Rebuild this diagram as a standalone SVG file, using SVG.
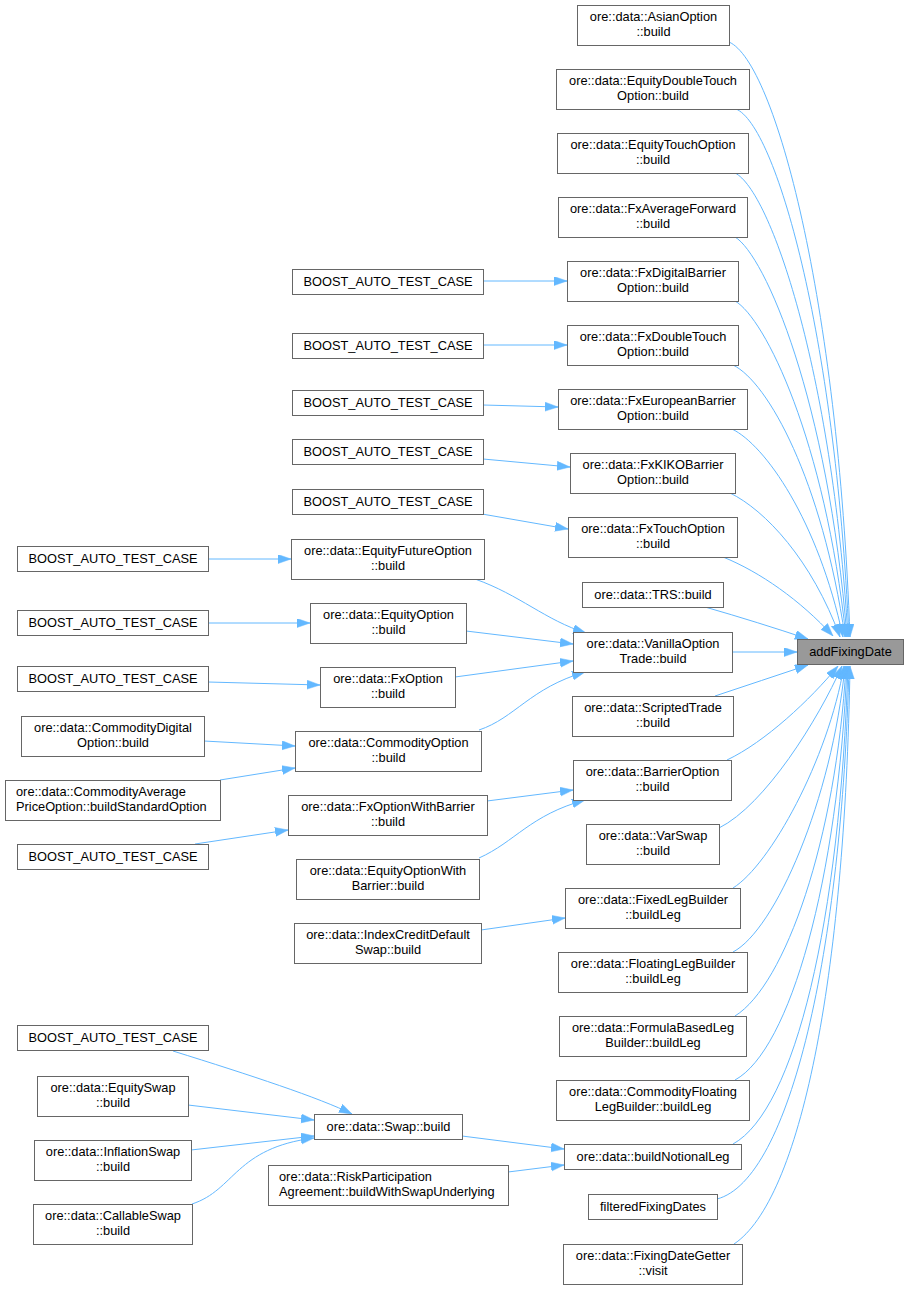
<svg xmlns="http://www.w3.org/2000/svg" width="908" height="1289" viewBox="0 0 908 1289">
<style>
.n rect{fill:#ffffff;stroke:#666666;stroke-width:1}
.m rect{fill:#999999;stroke:#666666;stroke-width:1}
text{font-family:"Liberation Sans",Arial,sans-serif;font-size:12.8px;fill:#000000;text-anchor:middle}
text.l{text-anchor:start}
.e path{fill:none;stroke:#63b8ff;stroke-width:1;marker-end:url(#ah)}
</style>
<defs>
<marker id="ah" markerWidth="13" markerHeight="10" refX="13" refY="4.5" orient="auto" markerUnits="userSpaceOnUse">
<path d="M0,0 L13,4.5 L0,9 z" fill="#63b8ff" stroke="#63b8ff" stroke-width="0.5"/>
</marker>
</defs>
<rect width="908" height="1289" fill="#ffffff"/>
<g id="connectors" class="e">
<path d="M729,42 C775,62 838,300 850,637"/>
<path d="M736,109 C775,125 835,330 849,637"/>
<path d="M735,173 C770,190 832,370 848,637"/>
<path d="M735,237 C765,255 828,400 847,637"/>
<path d="M735,301 C765,318 825,440 846,637"/>
<path d="M733,365 C768,382 822,480 845,637"/>
<path d="M732,429 C765,445 818,520 843,637"/>
<path d="M730,493 C765,510 812,560 840,637"/>
<path d="M723,557 C760,572 800,600 833,636"/>
<path d="M705,607 C740,617 775,628 808,639"/>
<path d="M732,652 L797,652"/>
<path d="M715,696 C745,686 778,675 808,665"/>
<path d="M727,760 C765,742 810,700 838,666"/>
<path d="M719,828 C765,805 818,720 842,666"/>
<path d="M733,888 C770,865 828,760 844,666"/>
<path d="M733,952 C775,930 832,800 845,666"/>
<path d="M735,1016 C785,985 836,840 846,666"/>
<path d="M735,1080 C790,1050 838,880 847,666"/>
<path d="M733,1144 C795,1110 840,920 848,666"/>
<path d="M717,1199 C790,1180 842,950 849,666"/>
<path d="M734,1244 C800,1200 845,980 850,666"/>
<path d="M483,281 L567,281"/>
<path d="M483,345 L567,345"/>
<path d="M483,405 L558,407"/>
<path d="M483,459 L570,467"/>
<path d="M482,514 L568,529"/>
<path d="M208,559 L291,559"/>
<path d="M208,623 L310,623"/>
<path d="M208,682 L320,685"/>
<path d="M204,741 L295,746"/>
<path d="M220,780 L295,768"/>
<path d="M195,844 L288,830"/>
<path d="M475,579 C520,595 545,620 586,633"/>
<path d="M466,631 L573,644"/>
<path d="M455,677 L573,661"/>
<path d="M479,730 C515,718 530,688 585,672"/>
<path d="M487,801 L573,790"/>
<path d="M479,858 C515,842 530,815 585,800"/>
<path d="M481,930 L565,918"/>
<path d="M462,1136 L564,1149"/>
<path d="M508,1172 L564,1165"/>
<path d="M173,1051 C250,1075 320,1098 352,1114"/>
<path d="M188,1105 L314,1120"/>
<path d="M191,1150 L314,1136"/>
<path d="M192,1204 C235,1190 235,1148 314,1138"/>
</g>
<g id="n_main" class="m"><rect x="797.5" y="639.5" width="106" height="25"/><text x="850.5" y="656">addFixingDate</text></g>
<g id="n_asian" class="n"><rect x="577.5" y="5.5" width="152" height="40"/><text x="653.5" y="21">ore::data::AsianOption</text><text x="653.5" y="36">::build</text></g>
<g id="n_eqdt" class="n"><rect x="556.5" y="69.5" width="193" height="40"/><text x="653" y="85">ore::data::EquityDoubleTouch</text><text x="653" y="100">Option::build</text></g>
<g id="n_eqt" class="n"><rect x="557.5" y="133.5" width="191" height="40"/><text x="653" y="149">ore::data::EquityTouchOption</text><text x="653" y="164">::build</text></g>
<g id="n_fxaf" class="n"><rect x="558.5" y="197.5" width="189" height="40"/><text x="653" y="213">ore::data::FxAverageForward</text><text x="653" y="228">::build</text></g>
<g id="n_fxdb" class="n"><rect x="567.5" y="261.5" width="171" height="40"/><text x="653" y="277">ore::data::FxDigitalBarrier</text><text x="653" y="292">Option::build</text></g>
<g id="n_fxdt" class="n"><rect x="567.5" y="325.5" width="171" height="40"/><text x="653" y="341">ore::data::FxDoubleTouch</text><text x="653" y="356">Option::build</text></g>
<g id="n_fxeb" class="n"><rect x="558.5" y="389.5" width="189" height="40"/><text x="653" y="405">ore::data::FxEuropeanBarrier</text><text x="653" y="420">Option::build</text></g>
<g id="n_fxkiko" class="n"><rect x="570.5" y="453.5" width="165" height="40"/><text x="653" y="469">ore::data::FxKIKOBarrier</text><text x="653" y="484">Option::build</text></g>
<g id="n_fxt" class="n"><rect x="568.5" y="517.5" width="169" height="40"/><text x="653" y="533">ore::data::FxTouchOption</text><text x="653" y="548">::build</text></g>
<g id="n_trs" class="n"><rect x="582.5" y="582.5" width="141" height="25"/><text x="653" y="599">ore::data::TRS::build</text></g>
<g id="n_vanilla" class="n"><rect x="573.5" y="632.5" width="159" height="40"/><text x="653" y="648">ore::data::VanillaOption</text><text x="653" y="663">Trade::build</text></g>
<g id="n_scripted" class="n"><rect x="572.5" y="696.5" width="161" height="40"/><text x="653" y="712">ore::data::ScriptedTrade</text><text x="653" y="727">::build</text></g>
<g id="n_barrier" class="n"><rect x="573.5" y="760.5" width="158" height="40"/><text x="652.5" y="776">ore::data::BarrierOption</text><text x="652.5" y="791">::build</text></g>
<g id="n_varswap" class="n"><rect x="586.5" y="824.5" width="133" height="40"/><text x="653" y="840">ore::data::VarSwap</text><text x="653" y="855">::build</text></g>
<g id="n_fixedleg" class="n"><rect x="565.5" y="888.5" width="175" height="40"/><text x="653" y="904">ore::data::FixedLegBuilder</text><text x="653" y="919">::buildLeg</text></g>
<g id="n_floatleg" class="n"><rect x="558.5" y="952.5" width="189" height="40"/><text x="653" y="968">ore::data::FloatingLegBuilder</text><text x="653" y="983">::buildLeg</text></g>
<g id="n_formula" class="n"><rect x="559.5" y="1016.5" width="187" height="40"/><text x="653" y="1032">ore::data::FormulaBasedLeg</text><text x="653" y="1047">Builder::buildLeg</text></g>
<g id="n_comfloat" class="n"><rect x="556.5" y="1080.5" width="193" height="40"/><text x="653" y="1096">ore::data::CommodityFloating</text><text x="653" y="1111">LegBuilder::buildLeg</text></g>
<g id="n_notional" class="n"><rect x="564.5" y="1144.5" width="177" height="25"/><text x="653" y="1161">ore::data::buildNotionalLeg</text></g>
<g id="n_filtered" class="n"><rect x="588.5" y="1194.5" width="129" height="25"/><text x="653" y="1211">filteredFixingDates</text></g>
<g id="n_fdg" class="n"><rect x="563.5" y="1244.5" width="179" height="40"/><text x="653" y="1260">ore::data::FixingDateGetter</text><text x="653" y="1275">::visit</text></g>
<g id="n_b1" class="n"><rect x="292.5" y="269.5" width="191" height="25"/><text x="388" y="286">BOOST_AUTO_TEST_CASE</text></g>
<g id="n_b2" class="n"><rect x="292.5" y="333.5" width="191" height="25"/><text x="388" y="350">BOOST_AUTO_TEST_CASE</text></g>
<g id="n_b3" class="n"><rect x="292.5" y="390.5" width="191" height="25"/><text x="388" y="407">BOOST_AUTO_TEST_CASE</text></g>
<g id="n_b4" class="n"><rect x="292.5" y="439.5" width="191" height="25"/><text x="388" y="456">BOOST_AUTO_TEST_CASE</text></g>
<g id="n_b5" class="n"><rect x="292.5" y="489.5" width="191" height="25"/><text x="388" y="506">BOOST_AUTO_TEST_CASE</text></g>
<g id="n_eqfut" class="n"><rect x="291.5" y="539.5" width="193" height="40"/><text x="388" y="555">ore::data::EquityFutureOption</text><text x="388" y="570">::build</text></g>
<g id="n_eqopt" class="n"><rect x="310.5" y="603.5" width="156" height="40"/><text x="388.5" y="619">ore::data::EquityOption</text><text x="388.5" y="634">::build</text></g>
<g id="n_fxopt" class="n"><rect x="320.5" y="667.5" width="135" height="40"/><text x="388" y="683">ore::data::FxOption</text><text x="388" y="698">::build</text></g>
<g id="n_comopt" class="n"><rect x="295.5" y="731.5" width="186" height="40"/><text x="388.5" y="747">ore::data::CommodityOption</text><text x="388.5" y="762">::build</text></g>
<g id="n_fxowb" class="n"><rect x="288.5" y="795.5" width="199" height="40"/><text x="388" y="811">ore::data::FxOptionWithBarrier</text><text x="388" y="826">::build</text></g>
<g id="n_eqowb" class="n"><rect x="296.5" y="859.5" width="183" height="40"/><text x="388" y="875">ore::data::EquityOptionWith</text><text x="388" y="890">Barrier::build</text></g>
<g id="n_icds" class="n"><rect x="294.5" y="923.5" width="187" height="40"/><text x="388" y="939">ore::data::IndexCreditDefault</text><text x="388" y="954">Swap::build</text></g>
<g id="n_swap" class="n"><rect x="314.5" y="1114.5" width="148" height="25"/><text x="388.5" y="1131">ore::data::Swap::build</text></g>
<g id="n_rpa" class="n"><rect x="268.5" y="1165.5" width="240" height="40"/><text class="l" x="279" y="1181">ore::data::RiskParticipation</text><text class="l" x="279" y="1196">Agreement::buildWithSwapUnderlying</text></g>
<g id="n_l1" class="n"><rect x="17.5" y="546.5" width="191" height="25"/><text x="113" y="563">BOOST_AUTO_TEST_CASE</text></g>
<g id="n_l2" class="n"><rect x="17.5" y="610.5" width="191" height="25"/><text x="113" y="627">BOOST_AUTO_TEST_CASE</text></g>
<g id="n_l3" class="n"><rect x="17.5" y="666.5" width="191" height="25"/><text x="113" y="683">BOOST_AUTO_TEST_CASE</text></g>
<g id="n_comdig" class="n"><rect x="21.5" y="716.5" width="183" height="40"/><text x="113" y="732">ore::data::CommodityDigital</text><text x="113" y="747">Option::build</text></g>
<g id="n_comavg" class="n"><rect x="5.5" y="780.5" width="215" height="40"/><text class="l" x="16" y="796">ore::data::CommodityAverage</text><text class="l" x="16" y="811">PriceOption::buildStandardOption</text></g>
<g id="n_l4" class="n"><rect x="17.5" y="844.5" width="191" height="25"/><text x="113" y="861">BOOST_AUTO_TEST_CASE</text></g>
<g id="n_l5" class="n"><rect x="17.5" y="1025.5" width="191" height="25"/><text x="113" y="1042">BOOST_AUTO_TEST_CASE</text></g>
<g id="n_eqswap" class="n"><rect x="37.5" y="1076.5" width="151" height="40"/><text x="113" y="1092">ore::data::EquitySwap</text><text x="113" y="1107">::build</text></g>
<g id="n_infswap" class="n"><rect x="34.5" y="1140.5" width="157" height="40"/><text x="113" y="1156">ore::data::InflationSwap</text><text x="113" y="1171">::build</text></g>
<g id="n_callswap" class="n"><rect x="33.5" y="1204.5" width="159" height="40"/><text x="113" y="1220">ore::data::CallableSwap</text><text x="113" y="1235">::build</text></g>
</svg>
